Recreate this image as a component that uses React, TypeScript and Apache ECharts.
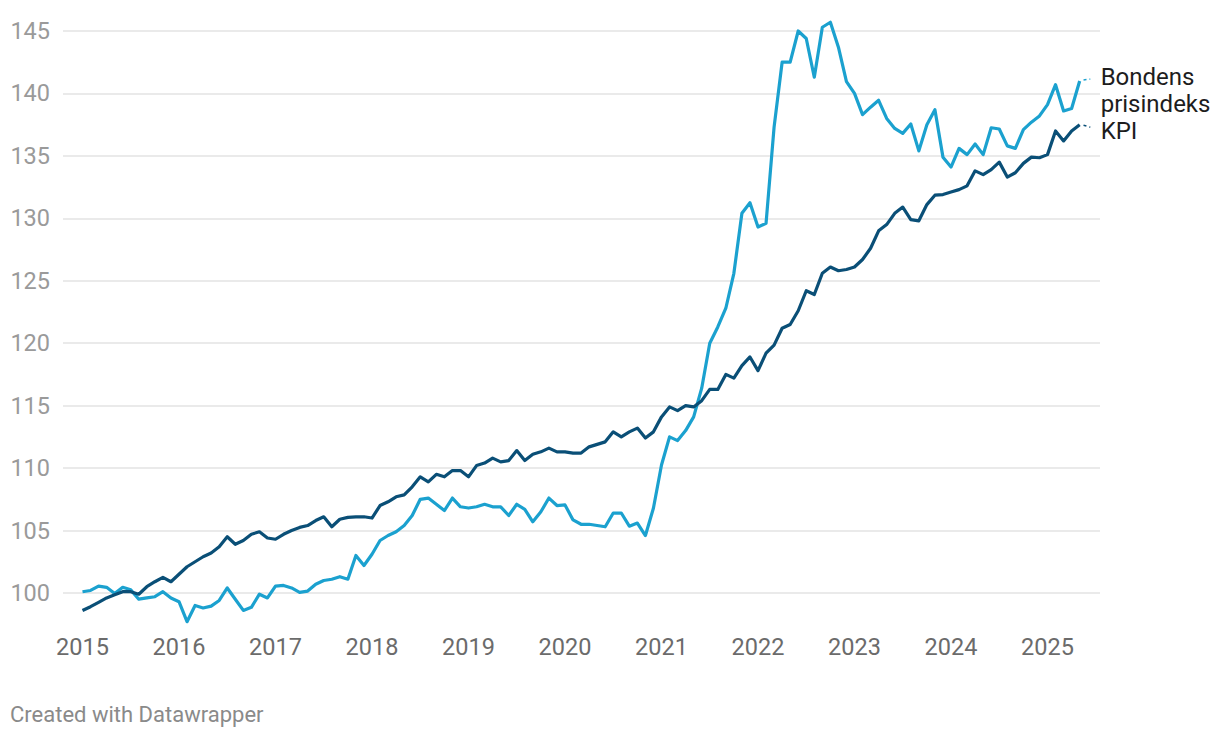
import React, { useEffect, useRef } from "react";
import * as echarts from "echarts";

// Monthly index values, Jan 2015 – May 2025
const startYear = 2015;
const bondensPrisindeks = [
  100.1, 100.2, 100.55, 100.45, 99.95, 100.45, 100.25, 99.5, 99.6, 99.7, 100.1, 99.6,
  99.3, 97.7, 99.0, 98.8, 98.95, 99.4, 100.4, 99.5, 98.6, 98.85, 99.9, 99.6,
  100.55, 100.6, 100.4, 100.05, 100.15, 100.7, 101.0, 101.1, 101.3, 101.1, 103.0, 102.2,
  103.1, 104.2, 104.6, 104.9, 105.4, 106.2, 107.5, 107.6, 107.1, 106.6, 107.6, 106.9,
  106.8, 106.9, 107.1, 106.9, 106.9, 106.2, 107.1, 106.7, 105.7, 106.5, 107.6, 107.0,
  107.05, 105.85, 105.5, 105.5, 105.4, 105.3, 106.4, 106.4, 105.35, 105.6, 104.6, 106.8,
  110.25, 112.5, 112.2, 113.0, 114.1, 116.4, 120.0, 121.3, 122.8, 125.6, 130.4, 131.25,
  129.3, 129.6, 137.3, 142.5, 142.5, 145.0, 144.4, 141.3, 145.3, 145.7, 143.7, 140.95,
  140.0, 138.3, 138.9, 139.45, 138.0, 137.2, 136.8, 137.55, 135.4, 137.5, 138.7, 134.9,
  134.1, 135.6, 135.1, 135.95, 135.1, 137.25, 137.15, 135.8, 135.6, 137.1, 137.7, 138.2,
  139.1, 140.7, 138.6, 138.8, 141.0,
];
const kpi = [
  98.6, 98.9, 99.25, 99.6, 99.85, 100.1, 100.1, 99.9, 100.5, 100.9, 101.25, 100.9,
  101.5, 102.1, 102.5, 102.9, 103.2, 103.7, 104.5, 103.9, 104.2, 104.7, 104.9, 104.4,
  104.3, 104.7, 105.0, 105.25, 105.4, 105.8, 106.1, 105.3, 105.9, 106.05, 106.1, 106.1,
  106.0, 107.0, 107.3, 107.7, 107.85, 108.5, 109.3, 108.9, 109.5, 109.3, 109.8, 109.8,
  109.3, 110.2, 110.4, 110.8, 110.5, 110.6, 111.4, 110.6, 111.1, 111.3, 111.6, 111.3,
  111.3, 111.2, 111.2, 111.7, 111.9, 112.1, 112.9, 112.5, 112.9, 113.2, 112.4, 112.9,
  114.1, 114.9, 114.6, 115.0, 114.9, 115.4, 116.3, 116.3, 117.5, 117.2, 118.2, 118.9,
  117.8, 119.2, 119.85, 121.2, 121.5, 122.6, 124.2, 123.9, 125.6, 126.1, 125.8, 125.9,
  126.1, 126.7, 127.6, 129.0, 129.5, 130.4, 130.9, 129.9, 129.8, 131.1, 131.85, 131.9,
  132.1, 132.3, 132.6, 133.8, 133.5, 133.9, 134.5, 133.3, 133.65, 134.4, 134.9, 134.85,
  135.1, 137.0, 136.2, 137.0, 137.5,
];
const yearTicks = [2015, 2016, 2017, 2018, 2019, 2020, 2021, 2022, 2023, 2024, 2025];
const seriesNames = ["Bondens prisindeks", "KPI"];
const endLabels = ["Bondens\nprisindeks", "KPI"];
const footer = "Created with Datawrapper";

const LIGHT = "#1ba1cf";
const DARK = "#0a4f77";

const toPoints = (vals: number[]) => vals.map((v, i) => [startYear + i / 12, v]);

function connector(vals: number[], dv1: number, dv2: number) {
  const n = vals.length - 1;
  const t = startYear + n / 12;
  const v = vals[n];
  return [[{ coord: [t + 0.04, v + dv1] }, { coord: [t + 0.11, v + dv2] }]];
}

export default function App() {
  const ref = useRef<HTMLDivElement>(null);
  useEffect(() => {
    if (!ref.current) return;
    const chart = echarts.init(ref.current, null, { renderer: "svg" });
    const lineSeries = (
      name: string, vals: number[], color: string, label: string,
      dy: number, lh: number, dv1: number, dv2: number
    ) => ({
      name,
      type: "line",
      data: toPoints(vals),
      showSymbol: false,
      symbol: "none",
      clip: false,
      lineStyle: { color, width: 3.2, join: "round" },
      itemStyle: { color },
      emphasis: { disabled: true },
      endLabel: {
        show: true,
        formatter: label,
        fontFamily: "Roboto",
        fontSize: 24,
        lineHeight: lh,
        color: "#1d1d1d",
        distance: 5,
        offset: [16, dy],
      },
      markLine: {
        silent: true,
        symbol: ["none", "none"],
        label: { show: false },
        lineStyle: { color, type: [3, 3], width: 1.5 },
        emphasis: { disabled: true },
        data: connector(vals, dv1, dv2),
      },
    });
    chart.setOption({
      animation: false,
      backgroundColor: "#ffffff",
      textStyle: { fontFamily: "Roboto" },
      grid: { left: 63, right: 120, top: 31, bottom: 82.6, containLabel: false },
      xAxis: {
        type: "value",
        min: 2014.798,
        max: 2025.544,
        axisLine: { show: false },
        axisTick: { show: false },
        splitLine: { show: false },
        axisLabel: {
          customValues: yearTicks,
          formatter: (v: number) => String(Math.round(v)),
          color: "#6b6b6b",
          fontSize: 23.5,
          margin: -20,
        },
      },
      yAxis: {
        type: "value",
        min: 95,
        max: 145,
        interval: 5,
        axisLine: { show: false },
        axisTick: { show: false },
        axisLabel: {
          formatter: (v: number) => (v < 100 ? "" : String(v)),
          color: "#9a9a9a",
          fontSize: 23.5,
          margin: 13,
        },
        splitLine: { show: true, showMinLine: false, lineStyle: { color: "#e3e3e3", width: 1.5 } },
      },
      series: [
        lineSeries(seriesNames[0], bondensPrisindeks, LIGHT, endLabels[0], 9.5, 27, 0.08, 0.15),
        lineSeries(seriesNames[1], kpi, DARK, endLabels[1], 6.5, 20, -0.05, -0.2),
      ],
      graphic: [
        {
          type: "text",
          left: 10,
          top: 703,
          style: { text: footer, fill: "#8a8a8a", fontSize: 22, fontFamily: "Roboto" },
        },
      ],
    });
    return () => chart.dispose();
  }, []);
  return (
    <div
      ref={ref}
      style={{ position: "absolute", left: 0, top: 0, width: 1220, height: 738, background: "#fff" }}
    />
  );
}
